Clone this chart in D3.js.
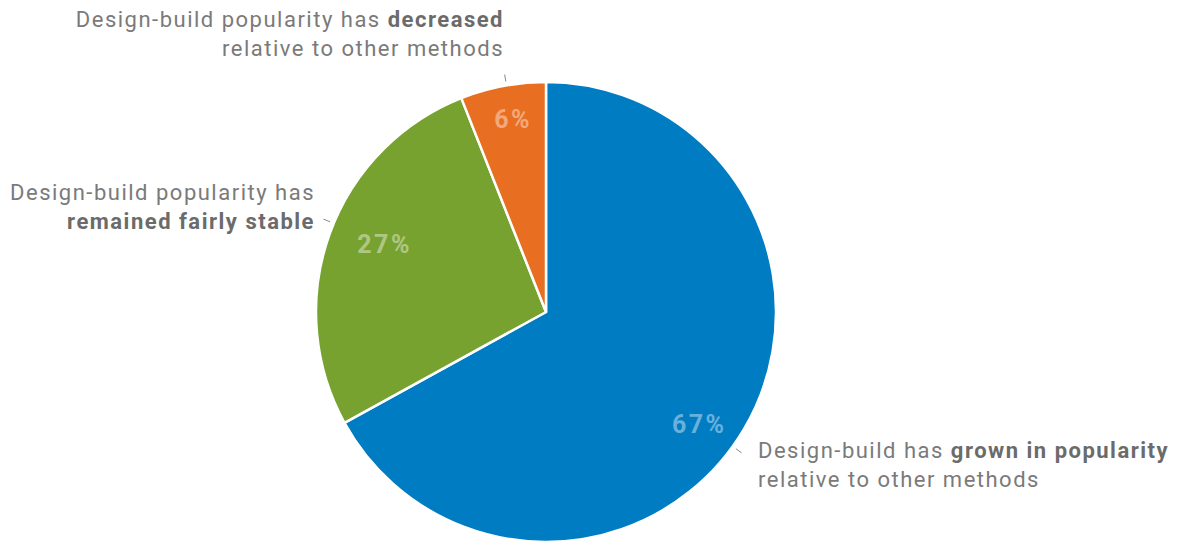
<!DOCTYPE html>
<html>
<head>
<meta charset="utf-8">
<script src="https://cdn.jsdelivr.net/npm/d3@7"></script>
<style>
  body { margin: 0; background: #fff; }
  text { font-family: Roboto, "DejaVu Sans", sans-serif; }
</style>
</head>
<body>
<div id="chart"></div>
<script>
var width = 1182
var height = 542

// data, clockwise from 12 o'clock
var keys = ["grown", "stable", "decreased"]
var values = [67, 27, 6]
var colors = ["#007cc3", "#78a22f", "#e86f22"]
var labelLines = [
  [["Design-build has ", false], ["grown in popularity", true]],
  [["Design-build popularity has", false]],
  [["Design-build popularity has ", false], ["decreased", true]]
]
var labelLines2 = [
  [["relative to other methods", false]],
  [["remained fairly stable", true]],
  [["relative to other methods", false]]
]

var cx = 546, cy = 312, radius = 230

var svg = d3.select("#chart")
  .append("svg")
    .attr("width", width)
    .attr("height", height)

var g = svg.append("g")
  .attr("transform", "translate(" + cx + "," + cy + ")")

var pie = d3.pie().sort(null).value(function(d){ return d })
var arcs = pie(values)

var arc = d3.arc().innerRadius(0).outerRadius(radius)

g.selectAll("path.slice")
  .data(arcs)
  .enter()
  .append("path")
    .attr("class", "slice")
    .attr("d", arc)
    .attr("fill", function(d, i){ return colors[i] })
    .attr("stroke", "#fff")
    .attr("stroke-width", 2.5)
    .attr("stroke-linejoin", "round")

function mid(d) { return (d.startAngle + d.endAngle) / 2 }
function pt(a, r) { return [Math.sin(a) * r, -Math.cos(a) * r] }

// percentage labels inside slices
var pctShift = [0.1, 0.05, 0.015]
var pctR = [189, 176, 196]
g.selectAll("text.pct")
  .data(arcs)
  .enter()
  .append("text")
    .attr("class", "pct")
    .attr("x", function(d, i){ return pt(mid(d) + pctShift[i], pctR[i])[0] + 1 })
    .attr("y", function(d, i){ return pt(mid(d) + pctShift[i], pctR[i])[1] })
    .attr("dy", "0.35em")
    .attr("text-anchor", "middle")
    .style("font-size", "25px")
    .style("font-weight", "bold")
    .style("letter-spacing", "2.5px")
    .attr("fill", "#fff")
    .attr("fill-opacity", 0.42)
    .text(function(d){ return d.data + "%" })

// leader ticks
var leadShift = [0.09, 0.05, 0.016]
g.selectAll("line.lead")
  .data(arcs)
  .enter()
  .append("line")
    .attr("class", "lead")
    .attr("x1", function(d, i){ return pt(mid(d) + leadShift[i], 234)[0] })
    .attr("y1", function(d, i){ return pt(mid(d) + leadShift[i], 234)[1] })
    .attr("x2", function(d, i){ return pt(mid(d) + leadShift[i], 241)[0] })
    .attr("y2", function(d, i){ return pt(mid(d) + leadShift[i], 241)[1] })
    .attr("stroke", "#888")
    .attr("stroke-width", 1)

// category labels
var labelPos = [
  { x: 758, y: 458, anchor: "start" },
  { x: 315, y: 200, anchor: "end" },
  { x: 504, y: 27, anchor: "end" }
]

keys.forEach(function(k, i) {
  var p = labelPos[i]
  var t = svg.append("text")
    .attr("x", p.x)
    .attr("y", p.y)
    .attr("text-anchor", p.anchor)
    .attr("fill", "#777")
    .style("font-size", "22px")
    .style("letter-spacing", "1.5px")
  ;[labelLines[i], labelLines2[i]].forEach(function(line, li) {
    line.forEach(function(seg, si) {
      var ts = t.append("tspan")
        .style("font-weight", seg[1] ? "bold" : "normal")
        .attr("fill", seg[1] ? "#6b6b6b" : "#7a7a7a")
        .text(seg[0])
      if (si === 0) ts.attr("x", p.x).attr("y", p.y + li * 29)
    })
  })
})
</script>
</body>
</html>
